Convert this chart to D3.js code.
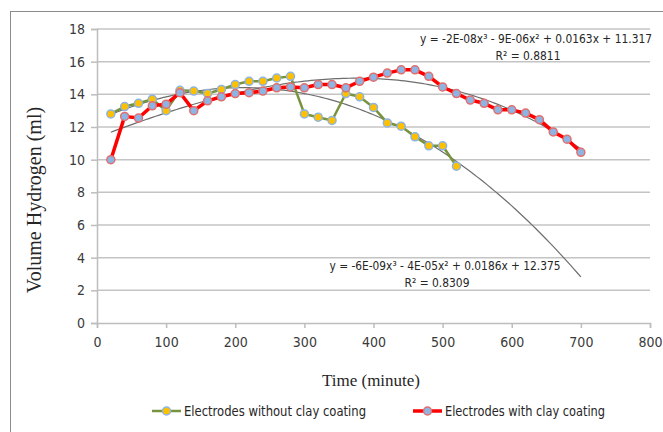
<!DOCTYPE html>
<html>
<head>
<meta charset="utf-8">
<script src="https://cdn.jsdelivr.net/npm/d3@7"></script>
<style>
  body { margin: 0; background: #fff; }
  svg { display: block; }
  .tick text { font-family: "Liberation Sans Narrow", "DejaVu Sans Condensed", "Liberation Sans", Arial, sans-serif; font-size: 14px; fill: #3a3a3a; }
</style>
</head>
<body>
<div id="chart"></div>
<script>
// time in minutes, volume in ml
var timeNoClay = [20, 40, 60, 80, 100, 120, 140, 160, 180, 200, 220, 240, 260, 280, 300, 320, 340, 360, 380, 400, 420, 440, 460, 480, 500, 520];
var volNoClay  = [12.8, 13.25, 13.45, 13.7, 13.0, 14.25, 14.2, 14.05, 14.3, 14.6, 14.8, 14.8, 15.0, 15.1, 12.8, 12.6, 12.4, 14.05, 13.85, 13.2, 12.25, 12.05, 11.4, 10.85, 10.85, 9.6];

var timeClay = [20, 40, 60, 80, 100, 120, 140, 160, 180, 200, 220, 240, 260, 280, 300, 320, 340, 360, 380, 400, 420, 440, 460, 480, 500, 520, 540, 560, 580, 600, 620, 640, 660, 680, 700];
var volClay  = [10.0, 12.65, 12.55, 13.3, 13.4, 14.1, 13.0, 13.6, 13.85, 14.05, 14.1, 14.2, 14.4, 14.45, 14.4, 14.6, 14.6, 14.4, 14.8, 15.05, 15.3, 15.5, 15.5, 15.1, 14.45, 14.05, 13.65, 13.45, 13.05, 13.05, 12.85, 12.45, 11.7, 11.25, 10.45];

var seriesNames = ["Electrodes without clay coating", "Electrodes with clay coating"];
var eqClay   = ["y = -2E-08x\u00b3 - 9E-06x\u00b2 + 0.0163x + 11.317", "R\u00b2 = 0.8811"];
var eqNoClay = ["y = -6E-09x\u00b3 - 4E-05x\u00b2 + 0.0186x + 12.375", "R\u00b2 = 0.8309"];
var xTicks = [0, 100, 200, 300, 400, 500, 600, 700, 800];
var yTicks = [0, 2, 4, 6, 8, 10, 12, 14, 16, 18];
var trendEnd = 700;

var W = 663, H = 432;
var plot = {left: 97, right: 650, top: 29, bottom: 323};
var narrow = '"Liberation Sans Narrow", "DejaVu Sans Condensed", "Liberation Sans", Arial, sans-serif';
var serif = '"Liberation Serif", "Times New Roman", serif';

var svg = d3.select("#chart").append("svg")
    .attr("width", W)
    .attr("height", H);

// outer chart frame (only left/top show in the crop)
svg.append("rect")
    .attr("x", 10.5).attr("y", 11.5)
    .attr("width", 700).attr("height", 500)
    .attr("fill", "none")
    .attr("stroke", "#8c8c8c")
    .attr("stroke-width", 1);

var x = d3.scaleLinear().domain([0, 800]).range([plot.left, plot.right]);
var y = d3.scaleLinear().domain([0, 18]).range([plot.bottom, plot.top]);

// grid lines
svg.append("g")
  .selectAll("line")
  .data(yTicks.slice(1))
  .enter().append("line")
    .attr("x1", plot.left).attr("x2", plot.right)
    .attr("y1", function(d) { return y(d); })
    .attr("y2", function(d) { return y(d); })
    .attr("stroke", "#c4c4c4")
    .attr("stroke-width", 1.5);

var yAxis = svg.append("g")
    .attr("transform", "translate(" + plot.left + ",0)")
    .call(d3.axisLeft(y).tickValues(yTicks).tickSize(6).tickPadding(6));
var xAxis = svg.append("g")
    .attr("transform", "translate(0," + plot.bottom + ")")
    .call(d3.axisBottom(x).tickValues(xTicks).tickSize(5).tickPadding(9));
[xAxis, yAxis].forEach(function(a) {
  a.select(".domain").attr("stroke", "#bdbdbd").attr("stroke-width", 1.5);
  a.selectAll(".tick line").attr("stroke", "#bdbdbd").attr("stroke-width", 1.5);
});

// cubic least squares, like the spreadsheet trendline
function cubicFit(xs, ys) {
  var n = 4, A = [], b = [];
  for (var i = 0; i < n; i++) { A.push([0, 0, 0, 0]); b.push(0); }
  xs.forEach(function(xv, k) {
    var t = xv / 100, p = [1, t, t * t, t * t * t];
    for (var i = 0; i < n; i++) {
      b[i] += p[i] * ys[k];
      for (var j = 0; j < n; j++) A[i][j] += p[i] * p[j];
    }
  });
  for (var c = 0; c < n; c++) {
    for (var r = c + 1; r < n; r++) {
      var f = A[r][c] / A[c][c];
      for (var j = c; j < n; j++) A[r][j] -= f * A[c][j];
      b[r] -= f * b[c];
    }
  }
  var co = [0, 0, 0, 0];
  for (var r = n - 1; r >= 0; r--) {
    var s = b[r];
    for (var j = r + 1; j < n; j++) s -= A[r][j] * co[j];
    co[r] = s / A[r][r];
  }
  return function(xv) { var t = xv / 100; return co[0] + co[1] * t + co[2] * t * t + co[3] * t * t * t; };
}

var trendLine = d3.line()
    .x(function(d) { return x(d[0]); })
    .y(function(d) { return y(d[1]); });

[[timeNoClay, volNoClay], [timeClay, volClay]].forEach(function(s) {
  var f = cubicFit(s[0], s[1]);
  var pts = d3.range(s[0][0], trendEnd + 1, 5).map(function(t) { return [t, f(t)]; });
  svg.append("path")
      .attr("d", trendLine(pts))
      .attr("fill", "none")
      .attr("stroke", "#6e6e6e")
      .attr("stroke-width", 1.2);
});

var line = d3.line()
    .x(function(d) { return x(d[0]); })
    .y(function(d) { return y(d[1]); });

function drawSeries(ts, vs, lineColor, lineW, fill, stroke) {
  var pts = ts.map(function(t, i) { return [t, vs[i]]; });
  svg.append("path")
      .attr("d", line(pts))
      .attr("fill", "none")
      .attr("stroke", lineColor)
      .attr("stroke-width", lineW)
      .attr("stroke-linejoin", "round");
  svg.append("g").selectAll("circle")
    .data(pts)
    .enter().append("circle")
      .attr("cx", function(d) { return x(d[0]); })
      .attr("cy", function(d) { return y(d[1]); })
      .attr("r", 4)
      .attr("fill", fill)
      .attr("stroke", stroke)
      .attr("stroke-width", 1.5);
}

drawSeries(timeNoClay, volNoClay, "#77933c", 2.5, "#ffc000", "#8db4e2");
drawSeries(timeClay, volClay, "#ff0000", 3.5, "#8db4e2", "#e07070");

// trendline equations
function eqLabel(lines, cx, y0, w1, w2) {
  svg.append("text")
      .attr("x", cx - w1 / 2).attr("y", y0)
      .attr("font-family", narrow).attr("font-size", 12)
      .attr("textLength", w1).attr("lengthAdjust", "spacingAndGlyphs")
      .attr("fill", "#262626")
      .text(lines[0]);
  svg.append("text")
      .attr("x", cx - w2 / 2 - 8).attr("y", y0 + 17)
      .attr("font-family", narrow).attr("font-size", 13)
      .attr("textLength", w2).attr("lengthAdjust", "spacingAndGlyphs")
      .attr("fill", "#262626")
      .text(lines[1]);
}
eqLabel(eqClay, 536, 43, 232, 65);
eqLabel(eqNoClay, 445, 270, 231, 65);

// axis titles
svg.append("text")
    .attr("x", 371).attr("y", 386)
    .attr("text-anchor", "middle")
    .attr("font-family", serif).attr("font-size", 17)
    .attr("fill", "#262626")
    .text("Time (minute)");
svg.append("text")
    .attr("transform", "translate(41,200) rotate(-90)")
    .attr("text-anchor", "middle")
    .attr("font-family", serif).attr("font-size", 20)
    .attr("fill", "#262626")
    .text("Volume Hydrogen (ml)");

// legend
var legend = svg.append("g")
  .selectAll("g")
  .data([
    {name: seriesNames[0], x: 152, len: 182, color: "#77933c", w: 2.5, fill: "#ffc000", stroke: "#8db4e2"},
    {name: seriesNames[1], x: 413, len: 160, color: "#ff0000", w: 3.5, fill: "#8db4e2", stroke: "#e07070"}
  ])
  .enter().append("g")
    .attr("transform", function(d) { return "translate(" + d.x + ",411)"; });
legend.append("line")
    .attr("x1", 0).attr("x2", 29)
    .attr("stroke", function(d) { return d.color; })
    .attr("stroke-width", function(d) { return d.w; });
legend.append("circle")
    .attr("cx", 14.5).attr("r", 4)
    .attr("fill", function(d) { return d.fill; })
    .attr("stroke", function(d) { return d.stroke; })
    .attr("stroke-width", 1.5);
legend.append("text")
    .attr("x", 32).attr("dy", "0.35em")
    .attr("font-family", narrow).attr("font-size", 14)
    .attr("textLength", function(d) { return d.len; })
    .attr("lengthAdjust", "spacingAndGlyphs")
    .attr("fill", "#262626")
    .text(function(d) { return d.name; });
</script>
</body>
</html>
